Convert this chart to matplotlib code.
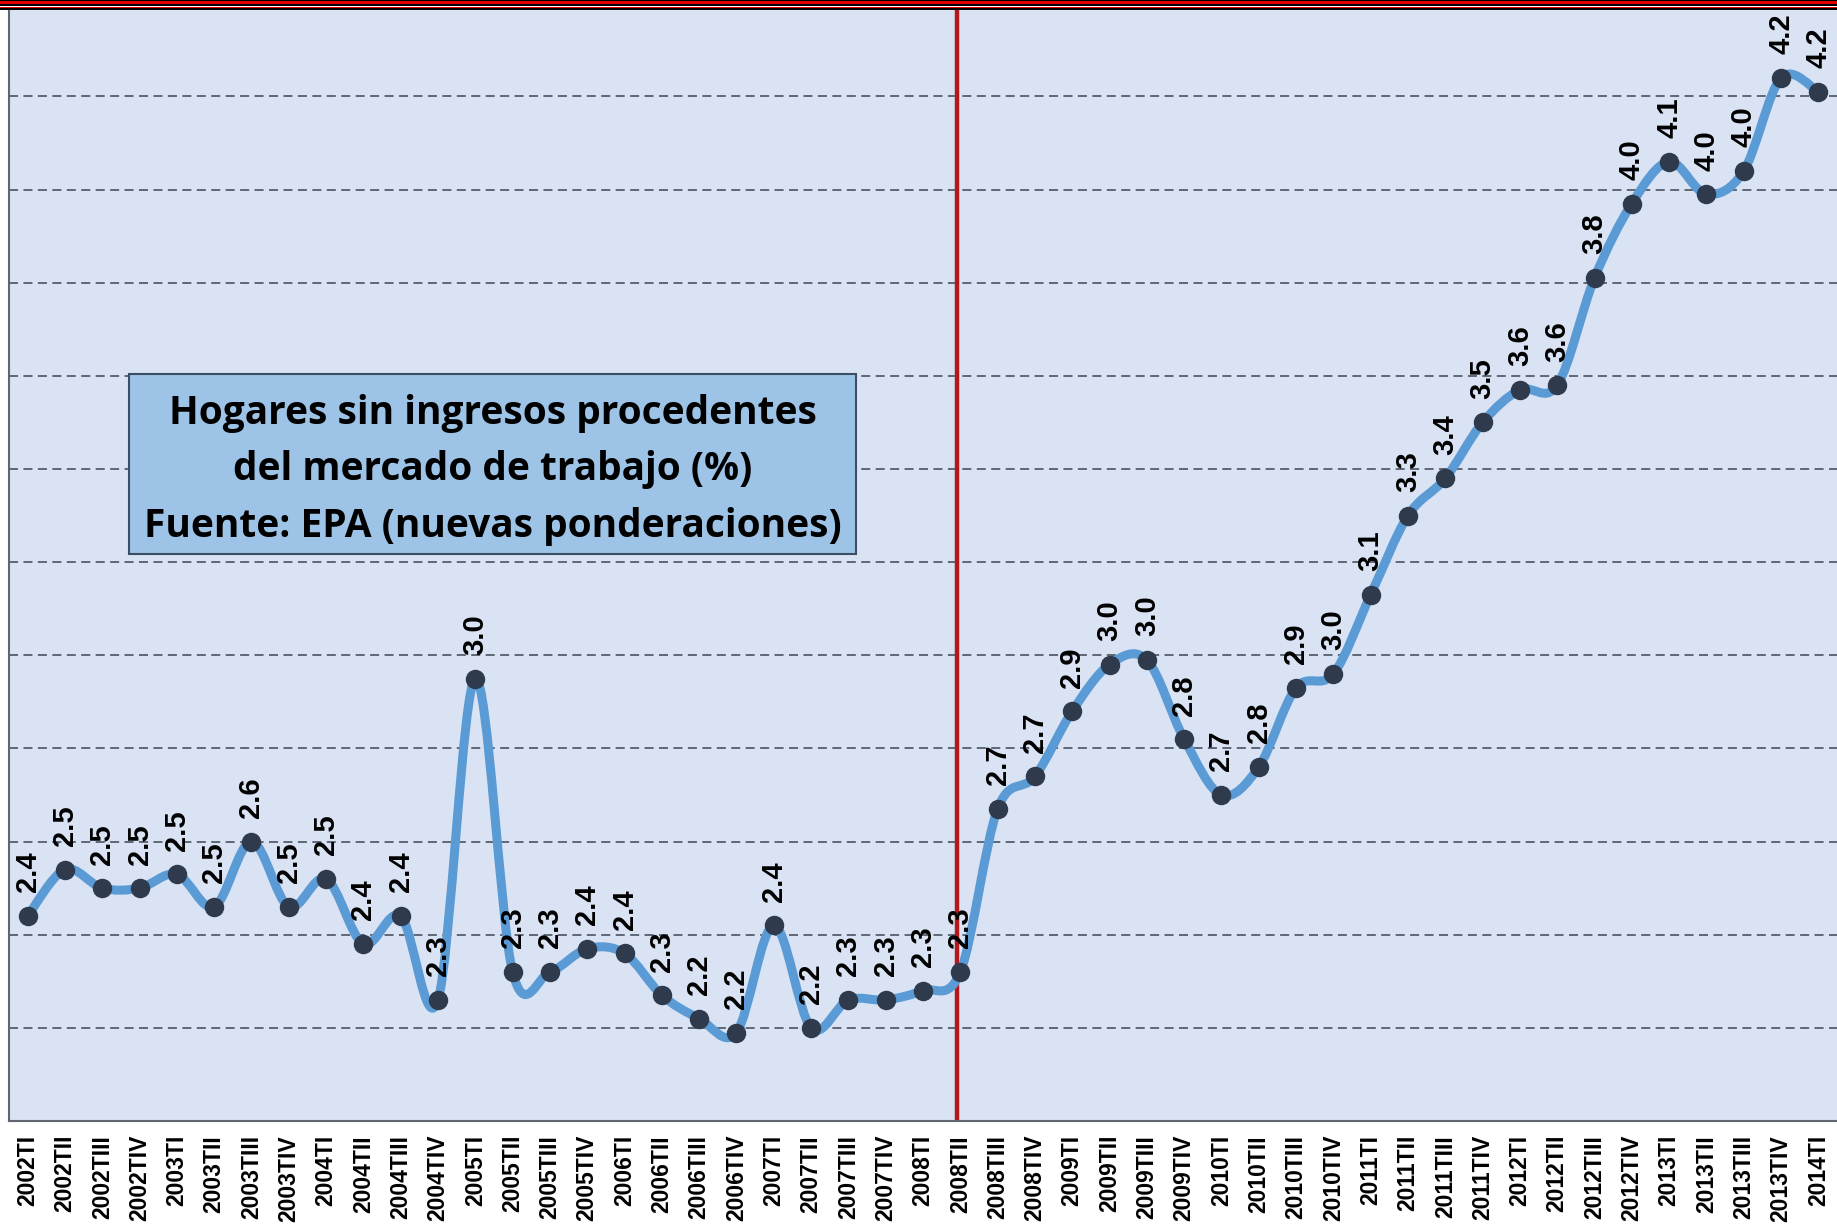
import matplotlib
matplotlib.use("Agg")
import matplotlib.pyplot as plt
from matplotlib.path import Path
from matplotlib.patches import PathPatch, Rectangle
import numpy as np

quarters = ["TI", "TII", "TIII", "TIV"]
periods = [f"{y}{q}" for y in range(2002, 2014) for q in quarters] + ["2014TI"]

# % hogares sin ingresos del mercado de trabajo
values = [2.44, 2.54, 2.50, 2.50, 2.53, 2.46, 2.60, 2.46, 2.52, 2.38,
          2.44, 2.26, 2.95, 2.32, 2.32, 2.37, 2.36, 2.27, 2.22, 2.19,
          2.42, 2.20, 2.26, 2.26, 2.28, 2.32, 2.67, 2.74, 2.88, 2.98,
          2.99, 2.82, 2.70, 2.76, 2.93, 2.96, 3.13, 3.30, 3.38, 3.50,
          3.57, 3.58, 3.81, 3.97, 4.06, 3.99, 4.04, 4.24, 4.21]

break_period = "2008TII"
title_lines = ["Hogares sin ingresos procedentes",
               "del mercado de trabajo (%)",
               "Fuente: EPA (nuevas ponderaciones)"]

W, H = 1837, 1226
fig = plt.figure(figsize=(W / 100, H / 100), dpi=100)
fig.patch.set_facecolor("white")
ax = fig.add_axes([9 / W, 1 - 1121 / H, 1 - 9 / W, (1121 - 10) / H])
ax.set_facecolor("#DAE3F3")

x = np.arange(len(values))
y = np.array(values)

# smooth line (Excel-style Catmull-Rom Bezier through the points)
verts = [(x[0], y[0])]
codes = [Path.MOVETO]
n = len(x)
for i in range(n - 1):
    p0 = np.array([x[max(i - 1, 0)], y[max(i - 1, 0)]])
    p1 = np.array([x[i], y[i]])
    p2 = np.array([x[i + 1], y[i + 1]])
    p3 = np.array([x[min(i + 2, n - 1)], y[min(i + 2, n - 1)]])
    c1 = p1 + (p2 - p0) / 6
    c2 = p2 - (p3 - p1) / 6
    verts += [tuple(c1), tuple(c2), tuple(p2)]
    codes += [Path.CURVE4] * 3
ax.add_patch(PathPatch(Path(verts, codes), fill=False, edgecolor="#5B9BD5",
                       lw=6.5, capstyle="round", joinstyle="round", zorder=3))
ax.plot(x, y, "o", ms=13, color="#2F3B4D", zorder=4)

for xi, yi in zip(x, y):
    ax.annotate(f"{yi:.1f}", (xi, yi), xytext=(0, 17), textcoords="offset points",
                rotation=90, ha="center", va="bottom", fontsize=21,
                fontweight="bold", family="Liberation Sans", color="black", zorder=5)

ax.axvline(periods.index(break_period) - 0.08, color="#B3191C", lw=3.2, zorder=2)

ax.set_xlim(-0.5, len(values) - 0.5)
ax.set_ylim(2.0, 2.0 + 0.2 * (1121 - 10) / 93.14)
ax.set_yticks(np.arange(2.2, 4.21, 0.2))
ax.set_yticklabels([])
ax.tick_params(axis="y", length=0)
ax.grid(axis="y", color="#555D6B", ls=(0, (5, 3)), lw=1.3)
ax.set_axisbelow(True)

ax.set_xticks(x)
ax.set_xticklabels(periods, rotation=90, fontsize=16.5, fontweight="bold",
                   family="Liberation Sans")
ax.tick_params(axis="x", length=0, pad=10)

for side in ["top", "right"]:
    ax.spines[side].set_visible(False)
for side in ["left", "bottom"]:
    ax.spines[side].set_color("#5F6670")
    ax.spines[side].set_linewidth(1.5)

# title box
bx0, bx1, by0, by1 = 129, 856, 374, 554
fig.add_artist(Rectangle((bx0 / W, 1 - by1 / H), (bx1 - bx0) / W, (by1 - by0) / H,
                         transform=fig.transFigure, facecolor="#9DC3E6",
                         edgecolor="#3B4E63", lw=1.5, zorder=6))
for k, line in enumerate(title_lines):
    fig.text((bx0 + bx1) / 2 / W, 1 - (413 + 57 * k) / H, line, ha="center",
             va="center", fontsize=28, fontweight="bold", family="Open Sans",
             color="black", zorder=7)

# red / black border at top
for top, h, c in [(0, 1.2, "black"), (1.2, 3, "#E00000"), (4.2, 1.6, "black"),
                  (5.8, 1, "white"), (6.8, 1.2, "#E00000"), (8, 2, "black")]:
    fig.add_artist(Rectangle((0, 1 - (top + h) / H), 1, h / H,
                             transform=fig.transFigure, facecolor=c,
                             edgecolor="none", zorder=8))

fig.savefig("out.png", dpi=100)
